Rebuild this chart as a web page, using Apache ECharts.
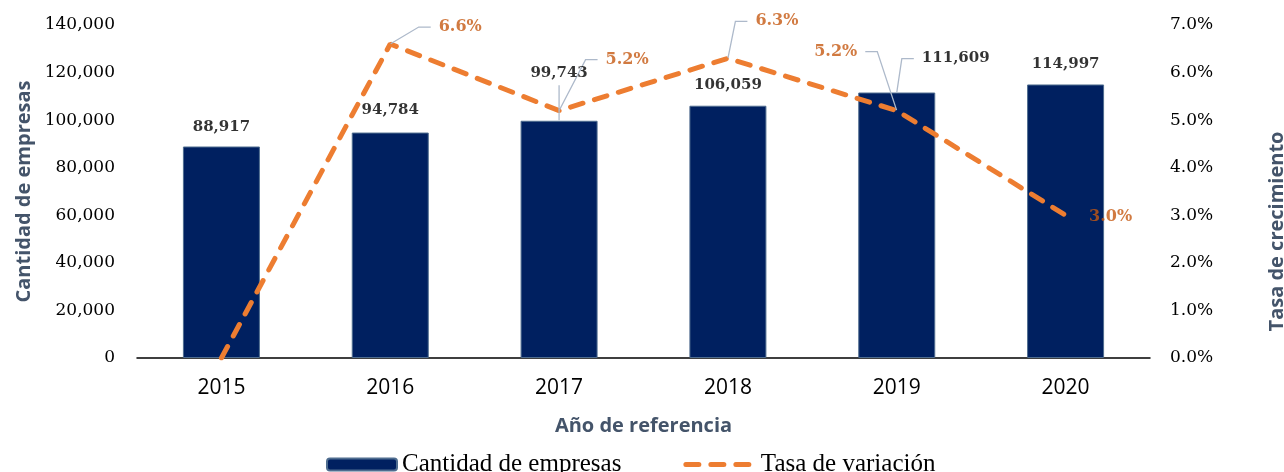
<!DOCTYPE html>
<html>
<head>
<meta charset="utf-8">
<script src="https://cdn.jsdelivr.net/npm/echarts@6/dist/echarts.min.js"></script>
<style>
  html, body { margin: 0; padding: 0; background: #fff; }
  #main { width: 1284px; height: 472px; }
</style>
</head>
<body>
<div id="main"></div>
<script>
const years = ["2015", "2016", "2017", "2018", "2019", "2020"];
const empresas = [88917, 94784, 99743, 106059, 111609, 114997];
const tasa = [0.0, 6.6, 5.2, 6.3, 5.2, 3.0];

// label offsets from the mark (px): [dx, dy, has leader line]
const barLabelPos = [[0, -19], [0, -22], [0, -48, 1], [0, -21], [59, -34, 1], [0, -20]];
const lineLabelPos = [[0, -20], [70, -17, 1], [68, -51, 1], [49, -37, 1], [-61, -59, 1], [45, 2]];

const serif = "DejaVu Serif";
const sans = "Open Sans";
const nameColor = "#44546A";
const leaderStyle = { color: "#ADB9CA", width: 1.3 };

function placeLabel(pos) {
  return (p) => {
    const o = pos[p.dataIndex];
    return {
      x: p.rect.x + p.rect.width / 2 + o[0],
      y: p.rect.y + p.rect.height / 2 + o[1],
      align: "center",
      verticalAlign: "middle",
    };
  };
}

function labelData(values, pos, skip) {
  return values.map((v, i) => {
    if (i === skip) return { value: v, label: { show: false }, labelLine: { show: false } };
    return pos[i][2] ? v : { value: v, labelLine: { show: false } };
  });
}

const myChart = echarts.init(document.getElementById("main"));
myChart.setOption({
  animation: false,
  grid: { left: 137, right: 134, top: 25, bottom: 114, outerBoundsMode: "none", containLabel: false },
  legend: {
    left: 321,
    top: 447,
    itemWidth: 70,
    itemHeight: 12,
    itemGap: 62,
    textStyle: { fontFamily: "Liberation Serif", fontSize: 25, color: "#000" },
    lineStyle: { width: 5 },
    data: ["Cantidad de empresas", { name: "Tasa de variación", itemStyle: { opacity: 0 } }],
  },
  xAxis: {
    type: "category",
    data: years,
    name: "Año de referencia",
    nameLocation: "middle",
    nameGap: 58,
    nameTextStyle: { fontFamily: sans, fontWeight: "bold", fontSize: 20, color: nameColor },
    axisLine: { lineStyle: { color: "#000", width: 1.5 } },
    axisTick: { show: false },
    axisLabel: { fontFamily: sans, fontSize: 21, color: "#000", margin: 20 },
  },
  yAxis: [
    {
      type: "value",
      min: 0,
      max: 140000,
      interval: 20000,
      name: "Cantidad de empresas",
      nameLocation: "middle",
      nameRotate: 90,
      nameGap: 102,
      nameTextStyle: { fontFamily: sans, fontWeight: "bold", fontSize: 20, color: nameColor },
      axisLine: { show: false },
      splitLine: { show: false },
      axisLabel: {
        fontFamily: serif,
        fontSize: 17,
        color: "#000",
        margin: 22,
        formatter: (v) => v.toLocaleString("en-US"),
      },
    },
    {
      type: "value",
      min: 0,
      max: 7,
      interval: 1,
      position: "right",
      name: "Tasa de crecimiento",
      nameLocation: "middle",
      nameRotate: 90,
      nameGap: 117,
      nameTextStyle: {
        fontFamily: sans, fontWeight: "bold", fontSize: 20, color: nameColor,
        padding: [0, 80, 0, 0],
      },
      axisLine: { show: false },
      splitLine: { show: false },
      axisLabel: {
        fontFamily: serif,
        fontSize: 17,
        color: "#000",
        margin: 20,
        formatter: (v) => v.toFixed(1) + "%",
      },
    },
  ],
  series: [
    {
      name: "Cantidad de empresas",
      type: "bar",
      barWidth: 77,
      itemStyle: { color: "#002060", borderColor: "#4F6D8F", borderWidth: 1 },
      data: empresas,
    },
    {
      name: "Tasa de variación",
      type: "line",
      yAxisIndex: 1,
      symbol: "none",
      itemStyle: { color: "#ED7D31" },
      lineStyle: { color: "#ED7D31", width: 5, type: [13, 12], cap: "round" },
      data: tasa,
      z: 3,
    },
    {
      // value labels for the bars, anchored at the top of each bar
      name: "bar-labels",
      type: "scatter",
      symbolSize: 1,
      itemStyle: { color: "rgba(0,0,0,0)" },
      silent: true,
      label: {
        show: true,
        position: "top",
        fontFamily: serif,
        fontWeight: "bold",
        fontSize: 15,
        color: "#000",
        backgroundColor: "rgba(255,255,255,0)",
        padding: [5, 8, 5, 8],
        formatter: (p) => p.value.toLocaleString("en-US"),
      },
      labelLine: { show: true, length2: 12, lineStyle: leaderStyle },
      labelLayout: placeLabel(barLabelPos),
      data: labelData(empresas, barLabelPos, -1),
      z: 4,
    },
    {
      // percentage labels for the line
      name: "line-labels",
      type: "scatter",
      yAxisIndex: 1,
      symbolSize: 1,
      itemStyle: { color: "rgba(0,0,0,0)" },
      silent: true,
      label: {
        show: true,
        position: "top",
        fontFamily: serif,
        fontWeight: "bold",
        fontSize: 16,
        color: "#C65911",
        backgroundColor: "rgba(255,255,255,0)",
        padding: [2, 8, 2, 8],
        formatter: (p) => p.value.toFixed(1) + "%",
      },
      labelLine: { show: true, length2: 12, lineStyle: leaderStyle },
      labelLayout: placeLabel(lineLabelPos),
      data: labelData(tasa, lineLabelPos, 0),
      z: 4,
    },
  ],
});
</script>
</body>
</html>
